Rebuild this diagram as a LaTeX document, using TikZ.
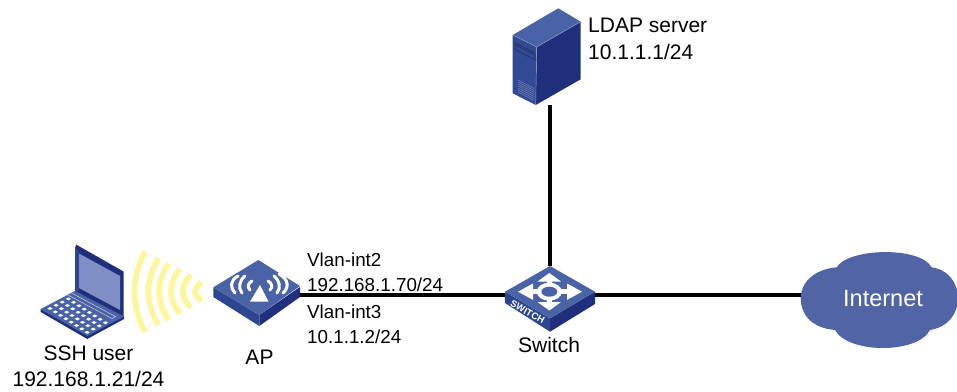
\documentclass[tikz,border=0pt]{standalone}
\usepackage{fontspec}
\setmainfont{Liberation Sans}
\definecolor{facec}{HTML}{4A63A6}
\definecolor{leftc}{HTML}{2E4590}
\definecolor{darkc}{HTML}{1F2F7C}
\definecolor{screenc}{HTML}{7F8FC6}
\definecolor{cloudc}{HTML}{5064A6}
\definecolor{wavec}{HTML}{FFF59B}
\tikzset{
  lab/.style={anchor=base,font=\fontsize{21}{21}\selectfont,inner sep=0pt},
  labl/.style={anchor=base west,font=\fontsize{21}{21}\selectfont,inner sep=0pt},
  small/.style={anchor=base west,font=\fontsize{18.8}{18.8}\selectfont,inner sep=0pt},
  link/.style={draw=black,line width=3.8pt},
  wave/.style={draw=wavec,line width=5.6pt},
  holder/.style={inner sep=0pt,outer sep=0pt,draw=none},
  wsym/.style={draw=white,line width=3pt,line cap=round}
}
\begin{document}
\begin{tikzpicture}[x=1pt,y=-1pt]
\useasboundingbox (0,0) rectangle (957,391);
% invisible holders
\node[holder,minimum width=87pt,minimum height=20pt] (ap) at (256.5,295) {};
\node[holder,minimum width=90pt,minimum height=20pt] (sw) at (550,295) {};
\node[holder,minimum width=60pt,minimum height=10pt] (srv) at (550,100) {};
\node[holder,minimum width=20pt,minimum height=60pt] (swtop) at (550,296) {};
\node[holder,minimum width=156pt,minimum height=20pt] (cl) at (879,295) {};
% connectors
\draw[link] (ap.east) -- (sw.west);
\draw[link] (sw.east) -- (cl.west);
\draw[link] (srv.south) -- (swtop.north);
% waves
\draw[wave] (145,251.7) .. controls (131,278) and (131,305) .. (145,331.7);
\draw[wave] (158.3,258.3) .. controls (145,281) and (145,302) .. (158.3,325);
\draw[wave] (168.5,264) .. controls (156,282) and (156,301) .. (168.5,320);
\draw[wave] (180,269) .. controls (168,284) and (168,299) .. (180,313.5);
\draw[wave] (190.7,275) .. controls (180,287) and (180,296) .. (190.7,307.5);
\draw[wave] (201.5,282) .. controls (193,289) and (193,294) .. (201.5,301);
% laptop
\fill[darkc] (76,244.5) -- (123.5,271.5) -- (123.5,319) -- (75,292) -- cycle;
\fill[leftc] (75,246) -- (79,252) -- (79,290) -- (75,292) -- cycle;
\fill[screenc] (79,253.5) -- (120,276) -- (120,310) -- (79,288) -- cycle;
\fill[darkc] (40.7,309) -- (40.7,312) -- (87.3,339) -- (124,319) -- (124,316) -- (87.3,335) -- cycle;
\fill[facec] (40.7,309) -- (75,291) -- (124,316.5) -- (87.3,336) -- cycle;
\draw[white!70!facec,line width=.5pt] (70.5,292.5) -- (115.5,316.5) -- (112,318.5) -- (67,294.5) -- cycle;
\foreach \i in {0,...,3}{\foreach \j in {0,...,7}{
  \fill[white] ({50+6.1*\i+5.3*\j},{308.5-3.2*\i+3.4*\j}) ++(-2.6,0) -- ++(2.6,-1.5) -- ++(2.6,1.5) -- ++(-2.6,1.5) -- cycle;
}}
% AP
\fill[darkc] (259.3,315) -- (300,287) -- (300,297) -- (259.3,326) -- cycle;
\fill[leftc] (213.3,287.3) -- (259.3,315) -- (259.3,326) -- (213.3,297) -- cycle;
\fill[facec] (213.3,287.3) -- (258.3,260) -- (300,286) -- (259.3,315) -- cycle;
\fill[white] (260,285) -- (250,301.7) -- (268.5,301.7) -- cycle;
\draw[wsym] (252,281) .. controls (248,283) and (247,287) .. (250,290);
\draw[wsym] (245,276) .. controls (239,281) and (238,288) .. (242,293);
\draw[wsym] (238,276) .. controls (230,280) and (230,288) .. (235,293);
\draw[wsym] (268,281) .. controls (272,283) and (273,287) .. (270,290);
\draw[wsym] (274,276) .. controls (280,281) and (281,288) .. (277,293);
\draw[wsym] (279,274) .. controls (289,279) and (289,288) .. (283,293);
% server
\fill[facec] (512.7,35) -- (558.3,8.3) -- (580.7,21.7) -- (536.7,47) -- cycle;
\fill[darkc] (536.7,47) -- (580.7,21.7) -- (580.7,79.3) -- (535.7,105) -- cycle;
\fill[leftc!85!facec] (512.7,35) -- (536.7,47) -- (535.7,105) -- (512.7,93.3) -- cycle;
\draw[white!45!facec,line width=.4pt] (512.7,35) -- (536.7,47) -- (580.7,21.7);
\draw[white!45!facec,line width=.4pt] (536.7,47) -- (535.7,105);
\draw[leftc!70!black,line width=.6pt] (514,42) -- (535,53);
\draw[leftc!70!black,line width=.6pt] (515,44.5) -- (535,55) -- (535,60) -- (515,49.5) -- cycle;
\foreach \k in {0,...,6}{\draw[white!35!leftc,line width=.5pt] (518,{80+2*\k}) -- (534,{88.5+2*\k});}
% switch
\fill[darkc] (550,318.3) -- (595,291.7) -- (595,304) -- (550,331.7) -- cycle;
\fill[leftc] (505,291.7) -- (550,318.3) -- (550,331.7) -- (505,303) -- cycle;
\fill[facec] (505,291.7) -- (550,266) -- (595,291.7) -- (550,318.3) -- cycle;
\draw[white,line width=5pt] (549.3,278) -- (549.3,306);
\draw[white,line width=5pt] (523,291.7) -- (577,291.7);
\fill[white] (549.3,273) -- (561,281.5) -- (537.5,281.5) -- cycle;
\fill[white] (549.3,310.5) -- (561,302) -- (537.5,302) -- cycle;
\fill[white] (518,291.7) -- (533,283.5) -- (533,299.9) -- cycle;
\fill[white] (582,291.7) -- (567,283.5) -- (567,299.9) -- cycle;
\fill[white] (549.3,291.7) ellipse [x radius=12.5pt,y radius=9pt];
\fill[facec] (549.3,291.7) ellipse [x radius=8pt,y radius=5pt];
\node[rotate=-29,text=white,inner sep=0pt,font=\bfseries\fontsize{9.5}{9.5}\selectfont] (swt) at (527.5,312) {SWITCH};
% cloud
\fill[cloudc] (836.7,267.3) .. controls (848,248) and (920,246) .. (931.7,267.3)
  .. controls (950,270) and (958,285) .. (958,298)
  .. controls (958,314) and (948,327) .. (930,330)
  .. controls (918,354) and (848,354) .. (835,330)
  .. controls (812,328) and (800.7,315) .. (800.7,298)
  .. controls (800.7,282) and (815,269) .. (836.7,267.3) -- cycle;
\node[text=white,inner sep=0pt,anchor=base,font=\fontsize{23.5}{23.5}\selectfont] (inet) at (883,306) {Internet};
% labels
\node[lab] (l1) at (88.5,360.7) {SSH user};
\node[lab] (l2) at (88.5,386.7) {192.168.1.21/24};
\node[lab] (l3) at (259.5,364) {AP};
\node[lab] (l4) at (549,352) {Switch};
\node[labl] (l5) at (588,32) {LDAP server};
\node[labl] (l6) at (588,59) {10.1.1.1/24};
\node[small] (l7) at (307,266) {Vlan-int2};
\node[small] (l8) at (307,291) {192.168.1.70/24};
\node[small] (l9) at (307,318.5) {Vlan-int3};
\node[small] (l10) at (307,343) {10.1.1.2/24};
\end{tikzpicture}
\end{document}
